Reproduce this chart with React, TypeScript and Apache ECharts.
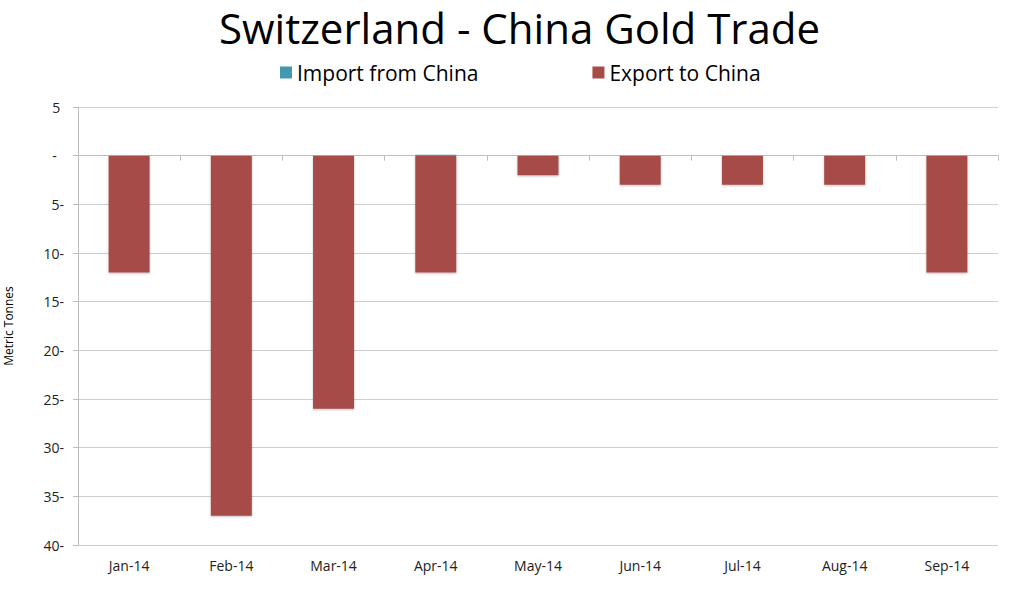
import React, { useEffect, useRef } from "react";
import * as echarts from "echarts";

const categories = ["Jan-14", "Feb-14", "Mar-14", "Apr-14", "May-14", "Jun-14", "Jul-14", "Aug-14", "Sep-14"];
const importFromChina = [0, 0, 0, 0.1, 0, 0, 0, 0, 0];
const exportToChina = [-12, -37, -26, -12, -2, -3, -3, -3, -12];

const FONT = "'Open Sans', 'Noto Sans', sans-serif";

export default function App() {
  const ref = useRef<HTMLDivElement>(null);
  useEffect(() => {
    if (!ref.current) return;
    const chart = echarts.init(ref.current, undefined, { renderer: "svg" });
    chart.setOption({
      animation: false,
      backgroundColor: "#ffffff",
      title: {
        text: "Switzerland - China Gold Trade",
        left: 214,
        top: 0,
        padding: [4, 5, 5, 5],
        textStyle: { fontFamily: FONT, fontSize: 42, lineHeight: 46, fontWeight: "normal", color: "#000" },
      },
      legend: {
        top: 57,
        left: 275,
        itemWidth: 12,
        itemHeight: 12,
        itemGap: 114,
        icon: "rect",
        textStyle: { fontFamily: FONT, fontSize: 21, color: "#000" },
        data: ["Import from China", "Export to China"],
      },
      grid: { left: 78, right: 26, top: 107, bottom: 47, containLabel: false, outerBoundsMode: "none" },
      xAxis: [
        {
          type: "category",
          data: categories,
          position: "bottom",
          axisLine: { show: false, onZero: false },
          axisTick: { show: false },
          axisLabel: { fontFamily: FONT, fontSize: 14, color: "#222", margin: 13 },
        },
        {
          type: "category",
          data: categories,
          position: "bottom",
          axisLine: { show: true, onZero: true, lineStyle: { color: "#bdbdbd", width: 1 } },
          axisTick: { show: true, length: 5, lineStyle: { color: "#bdbdbd" } },
          axisLabel: { show: false },
        },
      ],
      yAxis: {
        type: "value",
        min: -40,
        max: 5,
        interval: 5,
        name: "Metric Tonnes",
        nameLocation: "middle",
        nameGap: 64,
        nameTextStyle: { fontFamily: FONT, fontSize: 12, color: "#000" },
        axisLine: { show: true, lineStyle: { color: "#bdbdbd" } },
        axisTick: { show: true, length: 5, lineStyle: { color: "#bdbdbd" } },
        splitLine: { show: true, lineStyle: { color: "#cfcfcf" } },
        axisLabel: {
          fontFamily: FONT,
          fontSize: 14,
          color: "#222",
          margin: 14,
          formatter: (v: number) => (v === 0 ? "-  " : v < 0 ? `${-v}-` : `${v} `),
        },
      },
      series: [
        {
          name: "Import from China",
          type: "bar",
          stack: "t",
          xAxisIndex: 0,
          barWidth: 41,
          data: importFromChina,
          itemStyle: { color: "#4198af" },
        },
        {
          name: "Export to China",
          type: "bar",
          stack: "t",
          xAxisIndex: 0,
          barWidth: 41,
          data: exportToChina,
          itemStyle: {
            color: "#a64b46",
            shadowColor: "rgba(0,0,0,0.25)",
            shadowBlur: 2,
            shadowOffsetY: 1,
          },
        },
      ],
    });
    return () => chart.dispose();
  }, []);
  return <div ref={ref} style={{ width: 1024, height: 592, position: "absolute", left: 0, top: 0 }} />;
}
